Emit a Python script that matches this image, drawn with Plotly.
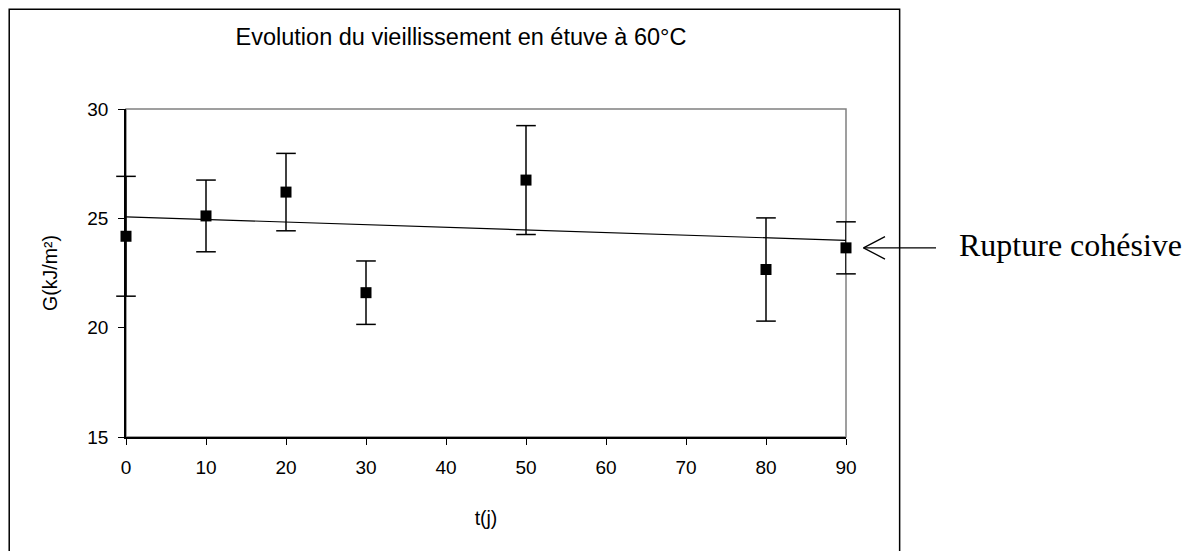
import plotly.graph_objects as go

# Data
t_days = [0, 10, 20, 30, 50, 80, 90]
G_values = [24.18, 25.11, 26.20, 21.60, 26.75, 22.66, 23.65]
G_errors = [2.74, 1.64, 1.77, 1.45, 2.49, 2.36, 1.19]

trend_t = [0, 90]
trend_G = [25.07, 23.99]

x_ticks = [0, 10, 20, 30, 40, 50, 60, 70, 80, 90]
y_ticks = [15, 20, 25, 30]

title_text = "Evolution du vieillissement en étuve à 60°C"
x_title = "t(j)"
y_title = "G(kJ/m²)"
note_text = "Rupture cohésive"

SANS = "Liberation Sans, Arial, sans-serif"
SERIF = "Liberation Serif, Times New Roman, serif"

# the page body adds an 8px offset; figure is sized to fit the window
W, H = 1187, 543

cap_x = t_days + t_days
cap_y = ([g + e for g, e in zip(G_values, G_errors)] +
         [g - e for g, e in zip(G_values, G_errors)])

fig = go.Figure()

fig.add_trace(go.Scatter(
    x=trend_t, y=trend_G, mode="lines",
    line=dict(color="black", width=1.2),
    showlegend=False, hoverinfo="skip",
))

# error-bar stems (caps drawn separately so they are not clipped)
fig.add_trace(go.Scatter(
    x=t_days, y=G_values, mode="markers",
    marker=dict(symbol="square", size=11, color="black"),
    error_y=dict(type="data", array=G_errors, visible=True,
                 color="black", thickness=1.5, width=0),
    cliponaxis=False, showlegend=False,
))

# error-bar caps
fig.add_trace(go.Scatter(
    x=cap_x, y=cap_y, mode="markers",
    marker=dict(symbol="line-ew", size=14, color="black",
                line=dict(color="black", width=1.5)),
    cliponaxis=False, showlegend=False, hoverinfo="skip",
))

# plot-area border (grey)
fig.add_shape(type="rect", xref="paper", yref="paper",
              x0=0, x1=1, y0=0, y1=1,
              line=dict(color="#808080", width=1.5), layer="below")

# outer chart border
fig.add_shape(type="rect", xref="paper", yref="paper",
              x0=-0.1622, x1=1.0745, y0=-0.36, y1=1.3042,
              line=dict(color="black", width=1.5), layer="below")

# arrow pointing at the last point
arrow_common = dict(x=t_days[-1], y=G_values[-1], xref="x", yref="y",
                    text="", showarrow=True, arrowhead=0,
                    arrowwidth=1.3, arrowcolor="black", xshift=17.5)
fig.add_annotation(ax=74, ay=0, **arrow_common)
fig.add_annotation(ax=23, ay=-12, **arrow_common)
fig.add_annotation(ax=23, ay=12, **arrow_common)

fig.add_annotation(x=1.1542, y=G_values[-1], xref="paper", yref="y",
                   xanchor="left", yanchor="middle", showarrow=False,
                   text=note_text, yshift=3,
                   font=dict(family=SERIF, size=32, color="black"))

fig.update_layout(
    width=W, height=H,
    margin=dict(l=118, r=349.3, t=101, b=114.3, autoexpand=False),
    paper_bgcolor="white", plot_bgcolor="white",
    title=dict(text=title_text, x=(461 - 8) / W, xref="container",
               xanchor="center", y=1 - (36.7 - 8) / H, yref="container",
               yanchor="middle",
               font=dict(family=SANS, size=23.5, color="black")),
    showlegend=False,
)

fig.update_xaxes(
    range=[0, 90], tickvals=x_ticks, ticktext=[str(v) for v in x_ticks],
    showgrid=False, zeroline=False,
    showline=True, linecolor="black", linewidth=1.5,
    ticks="outside", ticklen=6, tickcolor="black", tickwidth=1.2,
    ticklabelstandoff=6,
    tickfont=dict(family=SANS, size=19, color="black"),
    title=dict(text=x_title, standoff=35,
               font=dict(family=SANS, size=19.5, color="black")),
)
fig.update_yaxes(
    range=[15, 30], tickvals=y_ticks, ticktext=[str(v) for v in y_ticks],
    showgrid=False, zeroline=False,
    showline=True, linecolor="black", linewidth=1.5,
    ticks="outside", ticklen=6, tickcolor="black", tickwidth=1.2,
    ticklabelstandoff=6,
    tickfont=dict(family=SANS, size=19, color="black"),
    title=dict(text=y_title, standoff=24,
               font=dict(family=SANS, size=19.5, color="black")),
)

fig.write_html("out.html")
